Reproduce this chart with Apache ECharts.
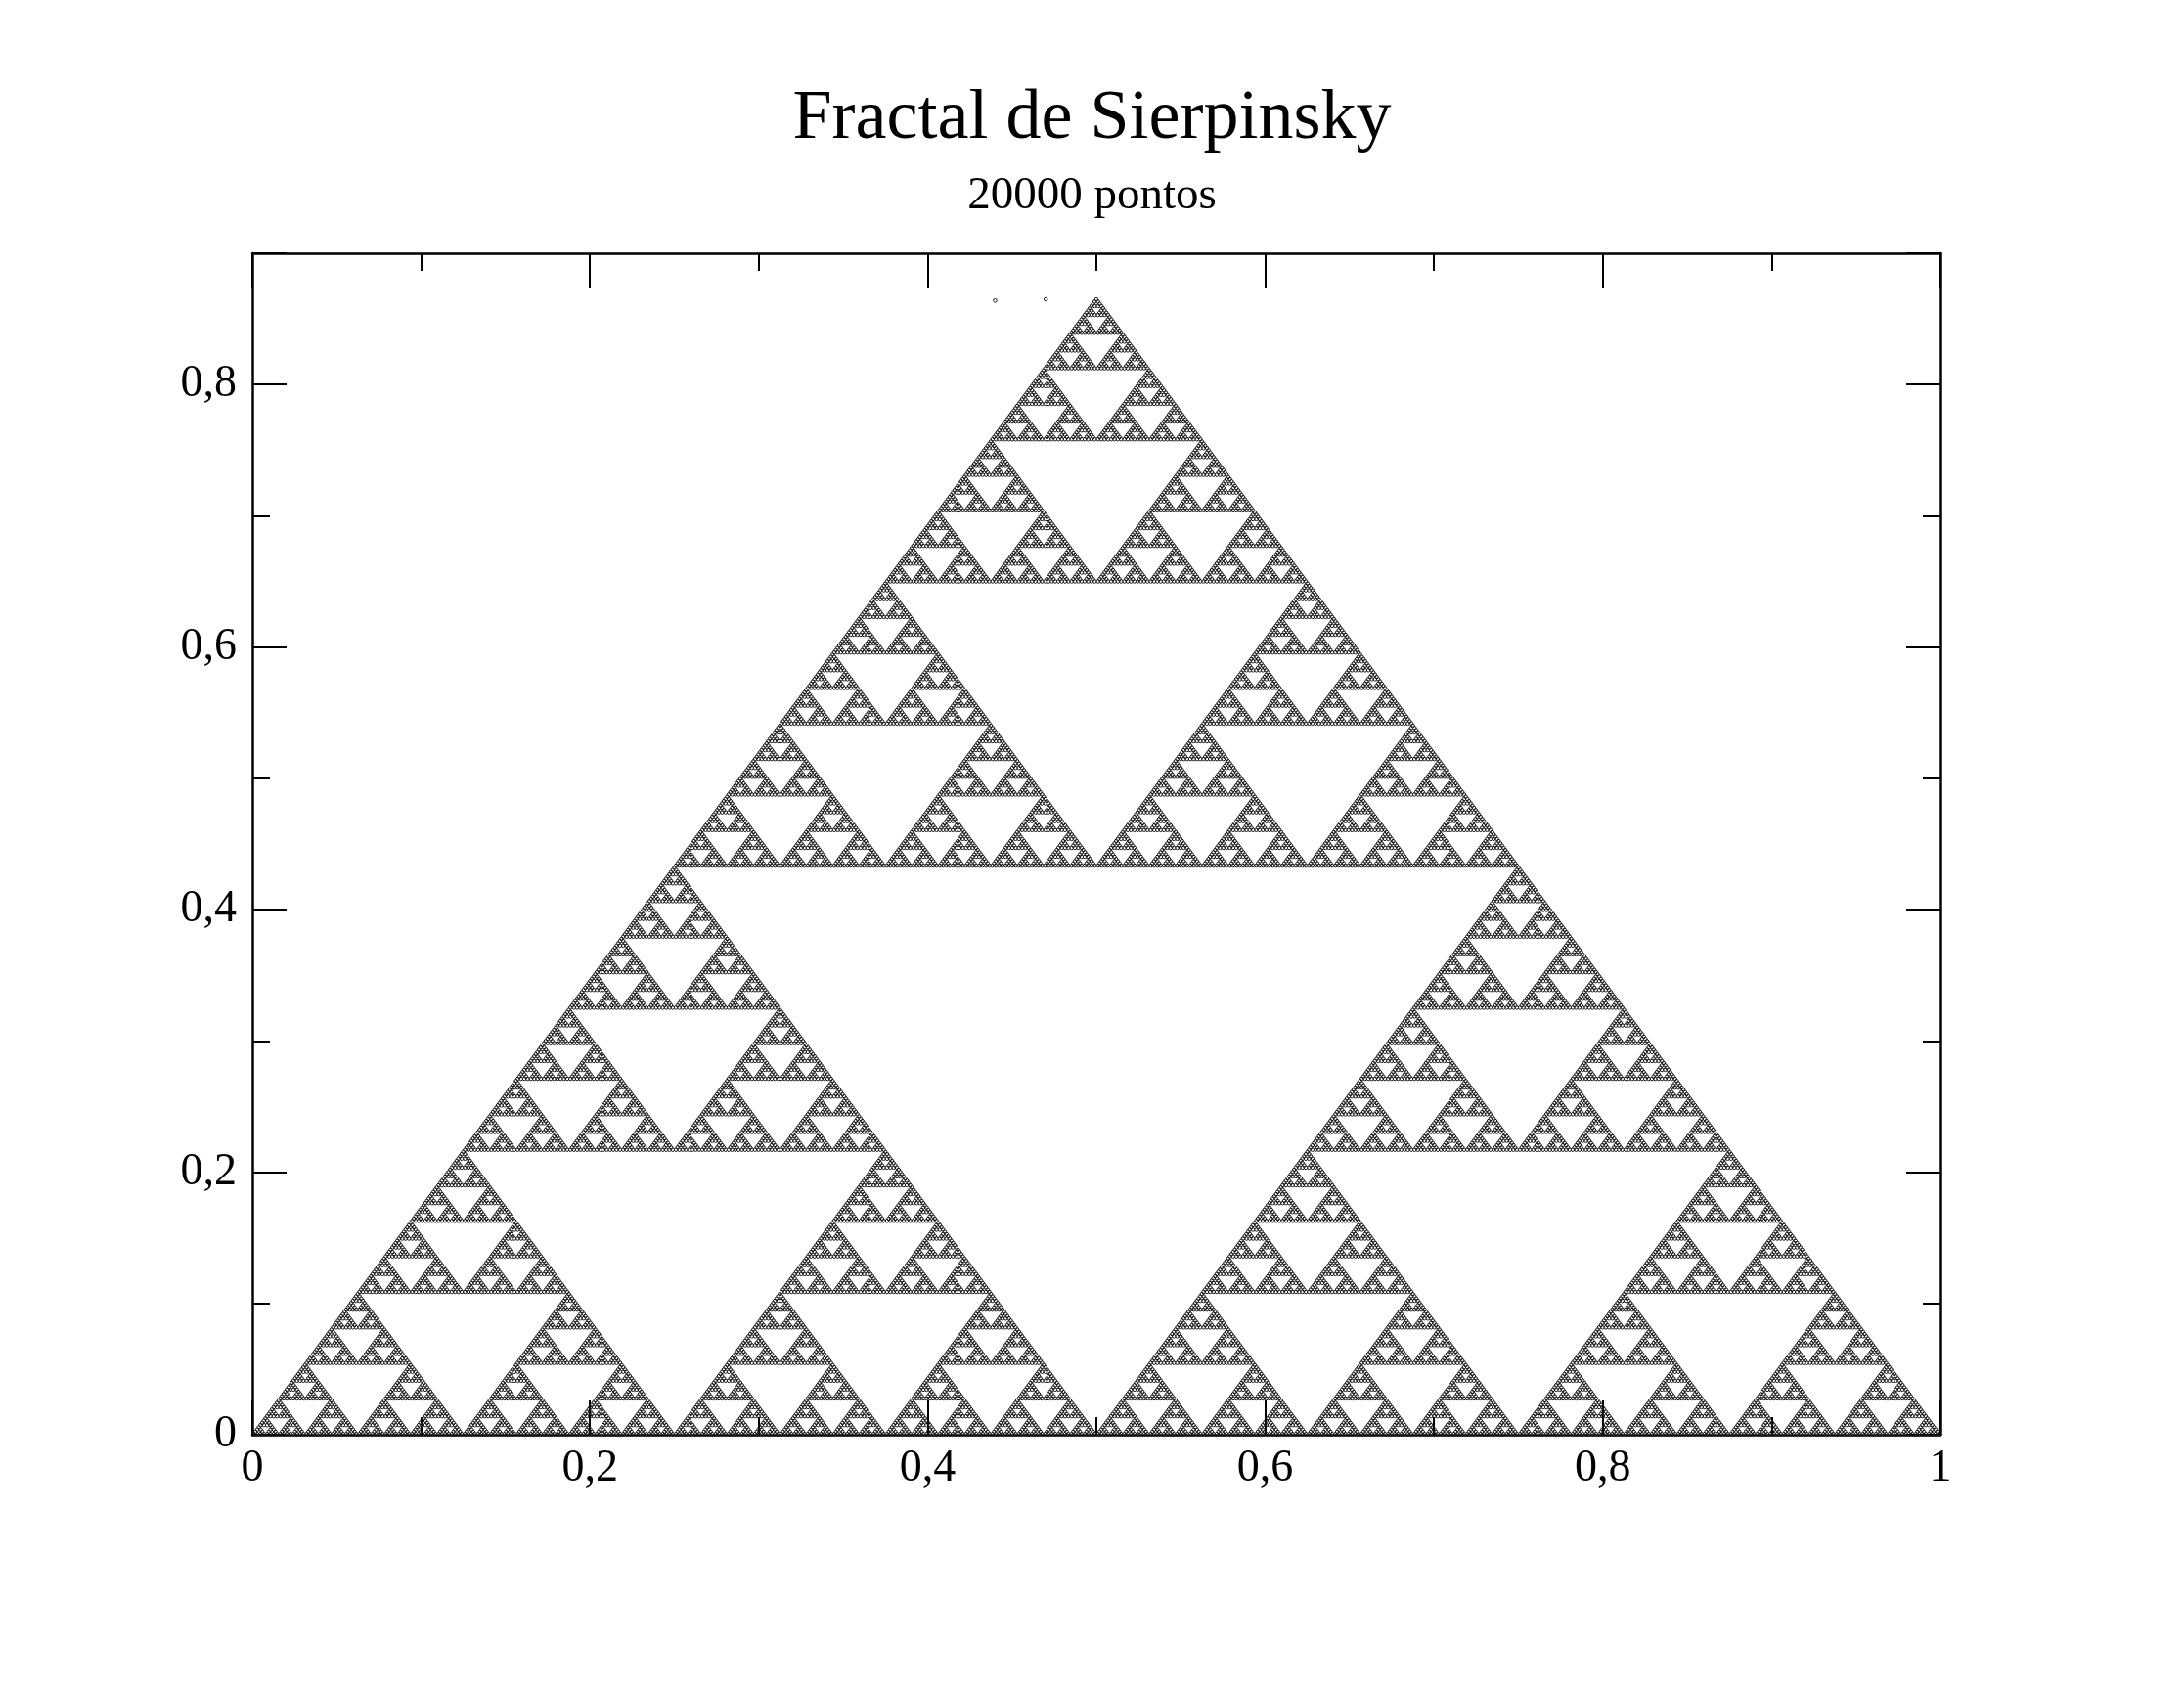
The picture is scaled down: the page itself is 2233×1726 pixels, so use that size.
<!DOCTYPE html>
<html>
<head>
<meta charset="utf-8">
<script src="https://cdn.jsdelivr.net/npm/echarts@6/dist/echarts.min.js"></script>
<style>html,body{margin:0;padding:0;background:#fff}#c{width:2233px;height:1726px}</style>
</head>
<body>
<div id="c"></div>
<script>
// Corners of the Sierpinski triangle
const vertices = [[0, 0], [1, 0], [0.5, 0.866]];
// Two stray transient points near the top of the plot
const strayPoints = [[0.44, 0.864], [0.47, 0.865]];
// Level of subdivision (3^9 = 19683 points, about the 20000 of the picture)
const depth = 9;
const seedPoint = [0.5, 0.2887];
const xTicks = [0, 0.2, 0.4, 0.6, 0.8, 1];
const yTicks = [0, 0.2, 0.4, 0.6, 0.8];

// Deterministic enumeration of the iterated-function-system images of the seed
const points = [];
(function walk(p, level) {
  if (level === 0) { points.push([p[0], p[1]]); return; }
  for (const v of vertices) walk([(p[0] + v[0]) / 2, (p[1] + v[1]) / 2], level - 1);
})(seedPoint, depth);
const data = strayPoints.concat(points);

const fmt = v => {
  const r = Math.round(v * 10) / 10;
  if (r === 0) return '0';
  if (r === 1) return '1';
  return r.toFixed(1).replace('.', ',');
};
const font = '"Liberation Serif", "Times New Roman", serif';
const G = { left: 258, right: 249, top: 259, bottom: 259 };
const frameStyle = { color: '#000', width: 2.5 };
const tickStyle = { color: '#000', width: 2 };

const major = (pos, isX, grid, labels) => ({
  type: 'value', gridIndex: grid, position: pos,
  min: 0, max: isX ? 1 : 0.9, interval: 0.2,
  axisLine: { show: grid === 0, onZero: false, lineStyle: frameStyle },
  axisTick: { show: true, inside: true, length: grid === 0 ? 35 : 18, lineStyle: tickStyle },
  splitLine: { show: false },
  axisLabel: labels ? {
    show: true, fontFamily: font, fontSize: 46, color: '#000', margin: isX ? 12 : 16,
    formatter: v => (v > 0.85 && !isX) ? '' : fmt(v)
  } : { show: false }
});

const chart = echarts.init(document.getElementById('c'), null, { renderer: 'canvas' });
chart.setOption({
  animation: false,
  backgroundColor: '#fff',
  title: [
    { text: 'Fractal de Sierpinsky', left: 'center', top: 81,
      textStyle: { fontFamily: font, fontSize: 72, fontWeight: 'normal', color: '#000' } },
    { text: '20000 pontos', left: 'center', top: 172,
      textStyle: { fontFamily: font, fontSize: 47, fontWeight: 'normal', color: '#000' } }
  ],
  grid: [Object.assign({}, G), Object.assign({}, G)],
  xAxis: [
    major('bottom', true, 0, true),
    major('top', true, 0, false),
    Object.assign(major('bottom', true, 1, false), { interval: 0.1 }),
    Object.assign(major('top', true, 1, false), { interval: 0.1 })
  ],
  yAxis: [
    major('left', false, 0, true),
    major('right', false, 0, false),
    Object.assign(major('left', false, 1, false), { interval: 0.1 }),
    Object.assign(major('right', false, 1, false), { interval: 0.1 })
  ],
  series: [{
    type: 'scatter', xAxisIndex: 0, yAxisIndex: 0,
    data: data, symbol: 'circle', symbolSize: 3.6,
    itemStyle: { color: 'rgba(255,255,255,0)', borderColor: '#1a1a1a', borderWidth: 1, opacity: 1 },
    silent: true, large: false
  }]
});
</script>
</body>
</html>
